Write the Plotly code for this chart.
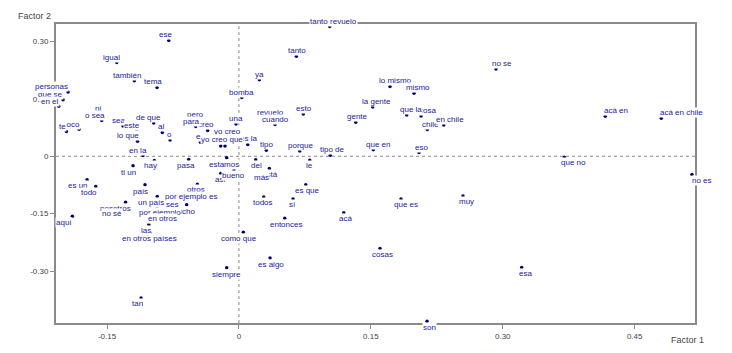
import plotly.graph_objects as go

# ---- data (Factor 1, Factor 2 coordinates) ----
labels = [
    "poco", "te", "ni", "o sea", "personas", "que se", "en el",
    "ese", "igual", "también", "tema",
    "sea", "este", "lo que", "de que", "al", "o", "en la",
    "pero", "creo", "para",
    "es", "es la", "yo creo", "yo creo que",
    "una", "bomba", "ya", "tanto", "tanto revuelo",
    "revuelo", "cuando", "esto", "tipo", "porque", "tipo de",
    "gente", "la gente", "lo mismo", "mismo", "cosa", "que la", "chile",
    "en chile", "que en", "eso", "no se", "acá en", "acá en chile",
    "que no", "no es", "esa", "son", "muy", "que es", "acá", "cosas",
    "entonces", "es que", "sí", "todos",
    "está", "más", "del", "le", "estamos", "así", "bueno", "como que",
    "es algo", "siempre", "tan", "aquí", "es un", "todo", "ti un", "hay",
    "pasa", "país",
    "otros", "por ejemplo es", "un país", "mucho", "ses", "nosotros",
    "no sé", "por ejemplo", "en otros", "las", "en otros países",
]
factor1 = [
    -0.1818, -0.1962, -0.1591, -0.1560, -0.1943, -0.2000, -0.2049,
    -0.0798, -0.1389, -0.1189, -0.0931,
    -0.1318, -0.1162, -0.1153, -0.0969, -0.0871, -0.0783, -0.1090,
    -0.0499, -0.0355, -0.0491,
    -0.0437, 0.0100, -0.0158, -0.0207,
    -0.0033, 0.0032, 0.0232, 0.0653, 0.1032,
    0.0354, 0.0410, 0.0732, 0.0312, 0.0691, 0.1039,
    0.1328, 0.1521, 0.1718, 0.1991, 0.2071, 0.1908, 0.2142,
    0.2329, 0.1528, 0.2048, 0.2923, 0.4166, 0.4803,
    0.3700, 0.5152, 0.3215, 0.2139, 0.2548, 0.1843, 0.1192, 0.1604,
    0.0521, 0.0760, 0.0615, 0.0282,
    0.0346, 0.0206, 0.0191, 0.0805, -0.0139, -0.0207, -0.0056, 0.0050,
    0.0354, -0.0139, -0.1113, -0.1894, -0.1727, -0.1628, -0.1204, -0.0962,
    -0.0571, -0.1068,
    -0.0473, -0.0499, -0.0929, -0.0594, -0.0738, -0.1289,
    -0.1420, -0.0931, -0.0863, -0.1024, -0.1011,
]
factor2 = [
    0.0710, 0.0648, 0.1106, 0.0933, 0.1684, 0.1477, 0.1306,
    0.3031, 0.2453, 0.1979, 0.1798,
    0.0795, 0.0674, 0.0394, 0.0873, 0.0622, 0.0425, 0.0018,
    0.0951, 0.0674, 0.0777,
    0.0368, 0.0311, 0.0269, 0.0269,
    0.0847, 0.1539, 0.2005, 0.2617, 0.3394,
    0.1003, 0.0829, 0.1106, 0.0155, 0.0140, 0.0026,
    0.0891, 0.1288, 0.1824, 0.1650, 0.1054, 0.1080, 0.0699,
    0.0821, 0.0174, 0.0096, 0.2280, 0.1047, 0.0995,
    -0.0026, -0.0474, -0.2909, -0.4316, -0.1036, -0.1114, -0.1477, -0.2409,
    -0.1622, -0.0741, -0.1114, -0.1062,
    -0.0319, -0.0267, -0.0093, -0.0104, -0.0041, -0.0448, -0.0358, -0.1984,
    -0.2658, -0.2917, -0.3705, -0.1570, -0.0611, -0.0793, -0.0249, -0.0111,
    -0.0085, -0.0741,
    -0.0733, -0.0902, -0.1052, -0.1269, -0.1109, -0.1199,
    -0.1342, -0.1316, -0.1472, -0.1788, -0.2003,
]
# label placement offsets in pixels (dx to the right, dy upward)
label_dx = [
    -8, -4.3, -1.3, -7, -17, -13, -9,
    -3.7, -5.7, -7.6, -3.7,
    -4.7, -4.7, -9.2, -5.4, -1.6, -1, -4.7,
    0, -1.7, -4.7,
    -0.5, 0.3, 2, 1.3,
    -0.3, 0, -0.3, 0.4, 4.3,
    0.7, 1, 0.7, -0.3, 1, 1.7,
    2, 4, 5, 3.7, 6, 4.3, 2.7,
    6.3, 4.4, 2, 5.7, 10.4, 19.7,
    9.4, 10.3, 4, 2.7, 3, 4.7, 1.3, 2.7,
    1.3, 1.3, -0.3, -0.4,
    0.7, 4.7, 0.3, -0.4, -2.7, -0.7, -0.7, -4.6,
    0.7, -0.7, -3.7, -8, -8.7, -6.7, -5, -4.3,
    -3, -4.7,
    -1, -4, -6.7, -2.7, -1.7, -10.5,
    -2.3, 3, -0.3, -3, -0.5,
]
label_dy = [
    5, 4.7, 5.7, 5.4, 5, 5.7, 5.3,
    5.7, 5, 5.3, 5.6,
    5, 4.7, 5.5, 5.7, 6, 5.3, 5,
    5.7, 5.7, 5.4,
    5.5, 6, 14.6, 6.8,
    5, 5, 5, 5.4, 5.4,
    5.7, 5.4, 5.7, 5.7, 5.6, 5.7,
    5.3, 5.7, 5.6, 5.3, 5.3, 5.3, 5,
    5.3, 5.3, 5.3, 5.7, 5.6, 5.3,
    -5.6, -6.3, -6.3, -6, -6, -6, -6, -6.3,
    -6, -6, -5.6, -6,
    -6, -11.3, -6, -5.6, -6.2, -6, -6, -6.4,
    -6.4, -6.4, -6, -6, -6, -5.7, -6.4, -5.3,
    -6.3, -6.4,
    -5.5, -5.8, -5.9, -6.6, -5.5, -6,
    -5.8, -6, -6, -5.6, -6,
]
x_ticks = [-0.15, 0, 0.15, 0.30, 0.45]
x_ticktext = ["-0.15", "0", "0.15", "0.30", "0.45"]
y_ticks = [-0.30, -0.15, 0, 0.15, 0.30]
y_ticktext = ["-0.30", "-0.15", "0", "0.15", "0.30"]

X_RANGE = [-0.208, 0.5186]
Y_RANGE = [-0.436, 0.346]

FONT = "Arial, Liberation Sans, sans-serif"
LABEL_COLOR = "#22229a"
DOT_COLOR = "#000070"
AXIS_COLOR = "#8a8a8a"
TICK_COLOR = "#444444"

fig = go.Figure()
fig.add_trace(go.Scatter(
    x=factor1, y=factor2, mode="markers",
    marker=dict(size=3.5, color=DOT_COLOR, line=dict(width=0)),
    hoverinfo="text", text=labels, showlegend=False,
))

annotations = []
for lab, fx, fy, dx, dy in zip(labels, factor1, factor2, label_dx, label_dy):
    annotations.append(dict(
        x=fx, y=fy, xref="x", yref="y", text=lab, showarrow=False,
        xshift=dx, yshift=dy, xanchor="center", yanchor="middle",
        font=dict(family=FONT, size=8, color=LABEL_COLOR),
        bgcolor="white", borderpad=0,
    ))

annotations.append(dict(
    x=-0.0344, y=1.0265, xref="paper", yref="paper", text="Factor 2",
    showarrow=False, xanchor="center", yanchor="middle",
    font=dict(family=FONT, size=9, color=TICK_COLOR),
))
annotations.append(dict(
    x=0.989, y=-0.0563, xref="paper", yref="paper", text="Factor 1",
    showarrow=False, xanchor="center", yanchor="middle",
    font=dict(family=FONT, size=9, color=TICK_COLOR),
))

shapes = [
    dict(type="line", xref="x", yref="paper", x0=0, x1=0, y0=0, y1=1,
         line=dict(color=AXIS_COLOR, width=1, dash="dot"), layer="below"),
    dict(type="line", xref="paper", yref="y", x0=0, x1=1, y0=0, y1=0,
         line=dict(color=AXIS_COLOR, width=1, dash="dot"), layer="below"),
]

axis_common = dict(
    showgrid=False, zeroline=False, showline=True, linecolor=AXIS_COLOR,
    linewidth=2, mirror=True, ticks="outside", ticklen=4, tickwidth=1,
    tickcolor=AXIS_COLOR, tickfont=dict(family=FONT, size=8, color=TICK_COLOR),
)

fig.update_layout(
    width=732, height=353,
    margin=dict(l=56, r=37, t=24, b=27),
    paper_bgcolor="white", plot_bgcolor="white",
    xaxis=dict(range=X_RANGE, tickvals=x_ticks, ticktext=x_ticktext, **axis_common),
    yaxis=dict(range=Y_RANGE, tickvals=y_ticks, ticktext=y_ticktext, **axis_common),
    annotations=annotations, shapes=shapes,
    font=dict(family=FONT),
)

fig.write_html(
    "out.html",
    config={"displayModeBar": False},
    post_script="document.body.style.margin='0';document.body.style.overflow='hidden';",
)
